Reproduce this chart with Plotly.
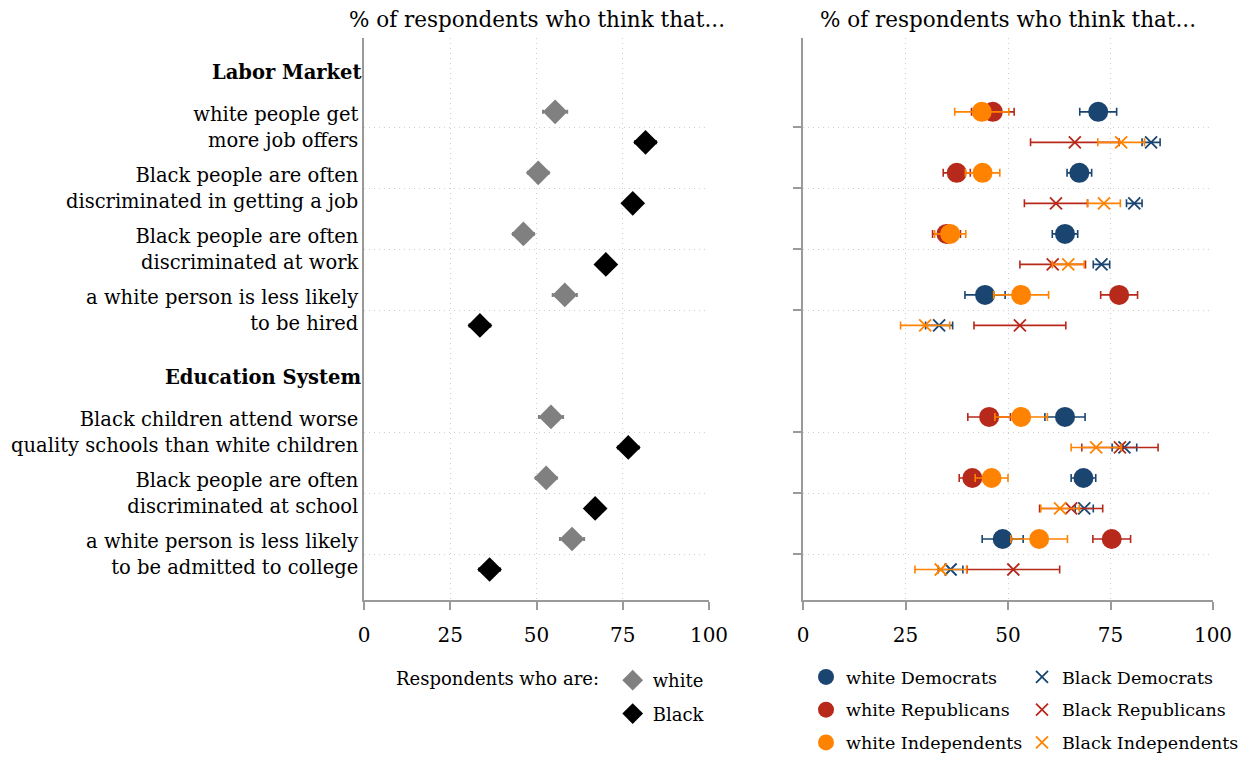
import plotly.graph_objects as go

# Statements (row labels) and the section each belongs to
sections = ["Labor Market", "Education System"]
statements = [
    "white people get<br>more job offers",
    "Black people are often<br>discriminated in getting a job",
    "Black people are often<br>discriminated at work",
    "a white person is less likely<br>to be hired",
    "Black children attend worse<br>quality schools than white children",
    "Black people are often<br>discriminated at school",
    "a white person is less likely<br>to be admitted to college",
]
section_of = [0, 0, 0, 0, 1, 1, 1]

# Left panel: all respondents by race (% who agree) and CI half-widths
white_all = [55.4, 50.5, 46.2, 58.2, 54.2, 52.8, 60.3]
white_all_ci = [3.5, 3.0, 3.0, 3.5, 3.5, 3.0, 3.5]
black_all = [81.6, 77.9, 70.1, 33.6, 76.6, 67.0, 36.4]
black_all_ci = [3.0, 2.5, 2.5, 3.0, 3.0, 2.5, 3.0]

# Right panel: white respondents by party
white_dem = [72.0, 67.4, 63.9, 44.4, 63.9, 68.4, 48.7]
white_dem_ci = [4.5, 3.0, 3.1, 4.9, 4.9, 3.0, 5.0]
white_rep = [46.3, 37.5, 35.0, 77.1, 45.4, 41.3, 75.3]
white_rep_ci = [5.2, 3.3, 3.4, 4.5, 5.2, 3.2, 4.6]
white_ind = [43.6, 43.8, 35.9, 53.2, 53.2, 46.0, 57.6]
white_ind_ci = [6.6, 4.2, 3.8, 6.7, 6.4, 4.0, 6.9]

# Right panel: Black respondents by party
black_dem = [84.9, 80.8, 72.8, 33.2, 78.4, 68.6, 36.0]
black_dem_ci = [2.2, 1.9, 2.0, 3.3, 3.0, 2.2, 3.0]
black_rep = [66.3, 61.7, 60.9, 52.9, 77.3, 65.4, 51.3]
black_rep_ci = [10.8, 7.7, 8.0, 11.2, 9.3, 7.7, 11.3]
black_ind = [77.6, 73.4, 64.7, 29.8, 71.5, 62.7, 33.6]
black_ind_ci = [5.7, 4.0, 3.9, 6.0, 6.1, 4.7, 6.3]

x_ticks = [0, 25, 50, 75, 100]
title_text = "% of respondents who think that..."

NAVY = "#1a4570"
RED = "#b7291b"
ORANGE = "#ff8300"
GRID = "#cfcfcf"
AXIS = "#9a9a9a"
FONT = "DejaVu Serif"

# the page body has an 8px margin, so the figure is a bit smaller than the window
OFF = 8
W, H = 1246 - OFF, 761 - OFF


def px(x):
    return (x - OFF) / W


def py(y):
    return 1 - (y - OFF) / H


# row positions: one unit per statement, one empty unit between sections
rows = [i + s for i, s in enumerate(section_of)]
header_pos = [rows[section_of.index(k)] - 0.9 for k in range(len(sections))]
y_white = [r - 0.25 for r in rows]
y_black = [r + 0.25 for r in rows]

fig = go.Figure()

# ---- left panel ----
fig.add_trace(go.Scatter(
    x=white_all, y=y_white, mode="markers", name="white",
    marker=dict(symbol="diamond", size=19, color="#808080"),
    error_x=dict(type="data", array=white_all_ci, color="#808080", thickness=2, width=2),
    xaxis="x", yaxis="y", legend="legend", legendgroup="wa", cliponaxis=False,
))
fig.add_trace(go.Scatter(
    x=black_all, y=y_black, mode="markers", name="Black",
    marker=dict(symbol="diamond", size=19, color="black"),
    error_x=dict(type="data", array=black_all_ci, color="black", thickness=2, width=2),
    xaxis="x", yaxis="y", legend="legend", legendgroup="ba", cliponaxis=False,
))

# ---- right panel ----
party = [
    ("Democrats", NAVY, white_dem, white_dem_ci, black_dem, black_dem_ci),
    ("Republicans", RED, white_rep, white_rep_ci, black_rep, black_rep_ci),
    ("Independents", ORANGE, white_ind, white_ind_ci, black_ind, black_ind_ci),
]
for pname, col, wv, wci, bv, bci in party:
    fig.add_trace(go.Scatter(
        x=wv, y=y_white, mode="markers", name="white " + pname,
        marker=dict(symbol="circle", size=20, color=col),
        error_x=dict(type="data", array=wci, color=col, thickness=1.6, width=4),
        xaxis="x2", yaxis="y2", legend="legend2", legendgroup="w" + pname,
        cliponaxis=False,
    ))
for pname, col, wv, wci, bv, bci in party:
    fig.add_trace(go.Scatter(
        x=bv, y=y_black, mode="markers", name="Black " + pname,
        marker=dict(symbol="x-thin", size=12, color=col, line=dict(color=col, width=1.8)),
        error_x=dict(type="data", array=bci, color=col, thickness=1.6, width=4),
        xaxis="x2", yaxis="y2", legend="legend3", legendgroup="b" + pname,
        cliponaxis=False,
    ))

y_dom = [py(600), py(38)]
yrange = [7.75, -1.46]

xax = dict(
    range=[0, 100], tickvals=x_ticks, showline=True, linecolor=AXIS, linewidth=1.5,
    ticks="outside", ticklen=8, tickcolor=AXIS, tickwidth=1.5, ticklabelstandoff=8,
    showgrid=True, gridcolor=GRID, griddash="1px,4px", gridwidth=1,
    zeroline=False, tickfont=dict(size=20, color="black"), fixedrange=True,
    automargin=False,
)
yax = dict(
    range=yrange, tickvals=rows, showline=True, linecolor=AXIS, linewidth=1.5,
    showgrid=True, gridcolor=GRID, griddash="1px,4px", gridwidth=1, zeroline=False,
    domain=y_dom, fixedrange=True, automargin=False,
)
leg = dict(
    xanchor="left", itemsizing="trace", font=dict(size=17.5),
    tracegroupgap=7, bgcolor="rgba(0,0,0,0)", borderwidth=0,
)

fig.update_layout(
    width=W, height=H,
    margin=dict(l=0, r=0, t=0, b=0),
    paper_bgcolor="white", plot_bgcolor="white",
    font=dict(family=FONT, size=19.5, color="black"),
    xaxis=dict(xax, domain=[px(364), px(709)], anchor="y"),
    yaxis=dict(yax, anchor="x", ticktext=statements, ticks="", ticklabelstandoff=0),
    xaxis2=dict(xax, domain=[px(803), px(1213)], anchor="y2"),
    yaxis2=dict(yax, anchor="x2", ticktext=[""] * len(rows), ticks="outside",
                ticklen=8, tickcolor=AXIS, tickwidth=1.5, showticklabels=False),
    legend=dict(leg, x=px(394), y=py(662), yanchor="top", font=dict(size=18),
                title=dict(text="Respondents who are: ", side="left", font=dict(size=18))),
    legend2=dict(leg, x=px(806), y=0, yanchor="bottom"),
    legend3=dict(leg, x=px(1022), y=0, yanchor="bottom"),
    showlegend=True,
)

# panel titles
for dom in ([364, 709], [803, 1213]):
    fig.add_annotation(
        text=title_text, xref="paper", yref="paper",
        x=px((dom[0] + dom[1]) / 2), y=py(20), xanchor="center", yanchor="middle",
        showarrow=False, font=dict(size=21.5),
    )

# section headers
for name, pos in zip(sections, header_pos):
    fig.add_annotation(
        text="<b>" + name + "</b>", xref="paper", yref="y",
        x=px(363), y=pos, xanchor="right", yanchor="middle",
        showarrow=False, font=dict(size=19.5),
    )

fig.write_html("out.html")
